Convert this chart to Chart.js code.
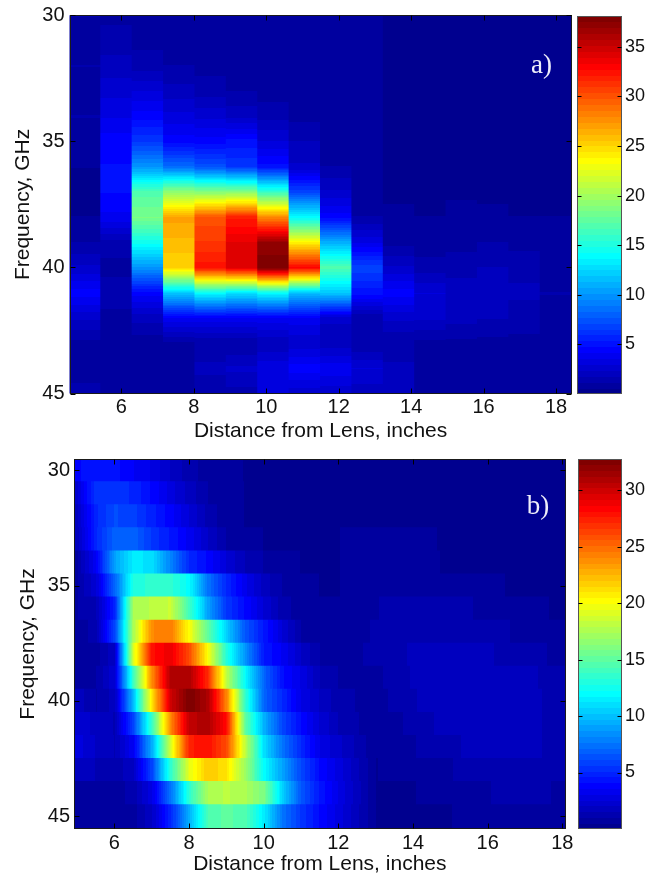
<!DOCTYPE html>
<html>
<head>
<meta charset="utf-8">
<title>Frequency vs distance from lens</title>
<script src="https://cdn.jsdelivr.net/npm/chart.js@4"></script>
<style>
body { margin: 0; background: #fff; }
canvas { position: absolute; }
</style>
</head>
<body>
<canvas id="plotA" width="576" height="456" style="left:0;top:-10px"></canvas>
<canvas id="barA" width="81" height="456" style="left:576px;top:-10px"></canvas>
<canvas id="plotB" width="576" height="438" style="left:0;top:437px"></canvas>
<canvas id="barB" width="81" height="438" style="left:576px;top:437px"></canvas>
<script>
'use strict';
const xTicks = [6, 8, 10, 12, 14, 16, 18];
const yTicks = [30, 35, 40, 45];
const xTitle = 'Distance from Lens, inches';
const yTitle = 'Frequency, GHz';

// panel a) one list per distance, values going down the frequency axis
const frequencyA = [30, 31, 32, 33, 34, 35, 36, 37, 38, 39, 40, 41, 42, 43, 44, 45];
const distanceA = [5, 5.867, 6.733, 7.6, 8.467, 9.333, 10.2, 11.067, 11.933, 12.8, 13.667, 14.533, 15.4, 16.267, 17.133, 18];
const intensityA = [
    [1.2, 1, 1.2, 1, 1.2, 1, .6, .5, .6, 1.2, 2.5, 4.5, 2.5, 1, .8, 1.5],
    [1, 1.5, 2, 2.8, 3.5, 4.5, 4.8, 4.8, 4, 1.5, 1, 1.5, 1, .8, .8, 1],
    [.8, 1, 1.5, 3, 4.5, 6.5, 10, 17, 18.5, 14.5, 10, 4.5, 2, .8, .7, .8],
    [.8, 1, 1.2, 2, 3.2, 4.5, 8.5, 19.5, 27, 26, 25, 12, 4, 1, .8, .8],
    [.8, .8, 1, 1.5, 2.8, 4.5, 7.5, 19, 30, 31, 32.5, 14, 4, 1.2, 2, 1.2],
    [.7, .7, .8, 1.2, 2.2, 5, 6.5, 19, 32, 34, 34, 13, 4, 1.2, 2.5, 1.5],
    [.7, .7, .7, .9, 1.6, 3, 5, 16, 28, 37, 38, 14, 4, 1.8, 3.5, 3],
    [.7, .7, .7, .7, 1, 1.8, 2.5, 7, 14, 24, 33, 11.5, 4, 2.5, 4.5, 2.5],
    [.6, .6, .6, .6, .7, .9, 1.2, 2.5, 4.5, 11, 17, 12, 2.5, 2, 4, 2.5],
    [.6, .6, .6, .6, .6, .6, .7, 1, 1.2, 3.5, 7, 5, 1.2, 1.2, 3, 2],
    [.5, .5, .5, .5, .5, .5, .5, .5, .7, 1, 2.5, 4.5, 2.5, 1.2, 2, 1.8],
    [.5, .5, .5, .5, .5, .5, .5, .5, .6, .8, 1.5, 3, 2.5, 1, .8, 1.2],
    [.5, .5, .5, .5, .5, .5, .5, .5, .8, 1, 1.5, 2.2, 2, 1, .8, .9],
    [.5, .5, .5, .5, .5, .5, .5, .5, .7, 1.2, 1.8, 2, 1.8, 1, .7, .8],
    [.5, .5, .5, .5, .5, .5, .5, .5, .6, 1, 1.6, 1.9, 1.5, 1, .8, .8],
    [.5, .5, .5, .5, .5, .5, .5, .5, .6, .7, 1, 1.2, 1.1, 1, 1, 1]
];
const colorMaxA = 38.1;
const colorTicksA = [5, 10, 15, 20, 25, 30, 35];

// panel b) one list per frequency, values going along the distance axis
const frequencyB = [30, 31, 32, 33, 34, 35, 36, 37, 38, 39, 40, 41, 42, 43, 44, 45];
const distanceB = [5, 5.5, 6, 6.5, 7, 7.5, 8, 8.5, 9, 9.5, 10, 10.5, 11, 11.5, 12, 13, 14, 15, 16, 17, 18];
const intensityB = [
    [4, 4.5, 4.3, 3.6, 3, 2, 1.2, .8, .6, .5, .5, .5, .5, .5, .5, .5, .5, .5, .5, .5, .5],
    [2.5, 5.5, 5.5, 5, 4, 2.8, 1.8, 1, .7, .5, .5, .5, .5, .5, .5, .5, .5, .5, .5, .5, .5],
    [2, 5, 6.2, 5.8, 4.8, 3.8, 2.5, 1.3, .7, .5, .5, .5, .5, .5, .5, .5, .5, .5, .5, .5, .5],
    [1.8, 5, 7, 7, 5.5, 4.5, 3.4, 2, 1, .7, .5, .5, .5, .5, .5, .8, .7, .4, .4, .4, .4],
    [1, 3.5, 9, 11.5, 11, 8, 5, 4, 2.5, 1.5, 1, .7, .5, .5, .5, .8, .8, .4, .4, .4, .4],
    [1, 2.5, 7, 13, 13.5, 13.5, 12, 7.5, 5, 3.2, 1.8, 1, .7, .5, .5, .8, .9, .8, .6, .4, .4],
    [1, 1.5, 5, 17.5, 18, 18.5, 14, 9, 5.5, 4, 2.5, 1.2, .8, .6, .6, 1, 1.3, 1.2, .9, .7, .4],
    [.8, 1.2, 6, 17.5, 24, 24.5, 20, 15, 10.5, 6.5, 4.5, 2.5, 1, .7, .6, 1.1, 1.3, 1.4, 1.2, .9, .8],
    [.8, .8, 2, 19, 28, 29, 26, 20, 13, 8.5, 4.5, 3.5, 2, 1, .7, 1.2, 1.6, 1.8, 1.6, 1.2, .9],
    [1, 1, 2.5, 14, 24, 31, 31, 27, 18, 12, 7, 4.2, 3, 1.5, 1, .9, 1.6, 1.9, 1.9, 1.7, 1.2],
    [1.8, 1, 1.8, 10, 21, 30, 32.7, 31, 24, 13.5, 7, 5, 3, 2, 1.2, .8, 1.5, 1.9, 2, 1.8, 1.2],
    [2.5, 1.8, 1.5, 6, 14, 24, 30.5, 31, 28, 15, 9.5, 6, 4, 2.5, 1.5, .6, 1.2, 1.8, 2, 1.8, 1.2],
    [2.8, 2, 1.5, 3.5, 9.5, 19, 27.5, 28, 26, 18, 11, 7.5, 5, 3, 2.2, .6, 1, 1.4, 1.9, 1.8, 1.2],
    [2, 1.5, 1.2, 2, 6, 13.5, 19.5, 22, 21, 17, 12, 9, 6, 4, 2.8, .5, .7, 1, 1.4, 1.5, 1.2],
    [1, .8, .8, 1.2, 3, 7.5, 13.5, 17.5, 18, 17.5, 16, 10.5, 6.5, 4.5, 3, .5, .5, .7, 1, 1.3, .9],
    [.7, .6, .6, .8, 2, 5, 9.5, 14.5, 15, 14.5, 11.5, 7.5, 5.5, 4, 2.8, .5, .4, .5, .8, .8, .8]
];
const colorMaxB = 32.75;
const colorTicksB = [5, 10, 15, 20, 25, 30];

const LEVELS = 64;
const tickFont = { family: '"Liberation Sans", Arial, sans-serif', size: 20 };
const barFont = { family: '"Liberation Sans", Arial, sans-serif', size: 18 };
const titleFont = { family: '"Liberation Sans", Arial, sans-serif', size: 21, lineHeight: 1 };
const inkColor = '#111';

// matlab jet colormap
function jet(i) {
    const v = (i + 1) / LEVELS;
    const c = (x) => Math.round(255 * Math.max(0, Math.min(1, x)));
    return `rgb(${c(Math.min(4 * v - 1.5, -4 * v + 4.5))},${c(Math.min(4 * v - 0.5, -4 * v + 3.5))},${c(Math.min(4 * v + 0.5, -4 * v + 2.5))})`;
}

function valueAt(nodes, values, t) {
    if (t <= nodes[0]) return values[0];
    for (let i = 1; i < nodes.length; i++) {
        if (t <= nodes[i]) {
            const f = (t - nodes[i - 1]) / (nodes[i] - nodes[i - 1]);
            return values[i - 1] + f * (values[i] - values[i - 1]);
        }
    }
    return values[values.length - 1];
}

// fill for one bar: walks along it pixel by pixel, hard stop at every colormap level
function shade(ctx, from, to, vertical, valueForPixel, colorMax) {
    const g = vertical ? ctx.createLinearGradient(0, from, 0, to) : ctx.createLinearGradient(from, 0, to, 0);
    const level = (p) => Math.max(0, Math.min(LEVELS - 1, Math.floor(valueForPixel(p) / colorMax * LEVELS)));
    let last = level(from);
    g.addColorStop(0, jet(last));
    for (let p = from + 1; p < to; p++) {
        const now = level(p);
        if (now !== last) {
            const off = (p - from) / (to - from);
            g.addColorStop(off, jet(last));
            g.addColorStop(off, jet(now));
            last = now;
        }
    }
    g.addColorStop(1, jet(last));
    return g;
}

// matlab style box: thin frame with ticks pointing inwards
const boxTicks = {
    id: 'boxTicks',
    afterDraw(chart, args, opts) {
        const { ctx, chartArea: a, scales } = chart;
        const l = Math.round(a.left) + 0.5, r = Math.round(a.right) - 0.5;
        const t = Math.round(a.top) + 0.5, b = Math.round(a.bottom) - 0.5;
        ctx.save();
        ctx.strokeStyle = opts.color || '#1a1a1a';
        ctx.lineWidth = 1;
        ctx.strokeRect(l, t, r - l, b - t);
        ctx.beginPath();
        if (opts.xTicks) {
            opts.xTicks.forEach((v) => {
                const x = Math.round(scales.x.getPixelForValue(v)) + 0.5;
                ctx.moveTo(x, t); ctx.lineTo(x, t + opts.size);
                ctx.moveTo(x, b); ctx.lineTo(x, b - opts.size);
            });
        }
        opts.yTicks.forEach((v) => {
            const y = Math.round(scales.y.getPixelForValue(v)) + 0.5;
            ctx.moveTo(l, y); ctx.lineTo(l + opts.size, y);
            ctx.moveTo(r, y); ctx.lineTo(r - opts.size, y);
        });
        ctx.strokeStyle = '#000';
        ctx.stroke();
        if (opts.label) {
            ctx.fillStyle = '#eeeefa';
            ctx.font = '27px "Liberation Serif", "Times New Roman", serif';
            ctx.textAlign = 'center';
            ctx.textBaseline = 'middle';
            ctx.fillText(opts.label.text, scales.x.getPixelForValue(opts.label.x), scales.y.getPixelForValue(opts.label.y));
        }
        ctx.restore();
    }
};

function setTicks(list) {
    return (scale) => { scale.ticks = list.map((v) => ({ value: v })); };
}

function heatOptions(box, xRange, yRange, boxOpts, indexAxis, pads) {
    return {
        indexAxis: indexAxis,
        responsive: false,
        animation: false,
        events: [],
        layout: { padding: { top: box.top, right: box.right, left: 0, bottom: 0 } },
        plugins: { legend: { display: false }, tooltip: { enabled: false }, boxTicks: boxOpts },
        datasets: { bar: { barPercentage: 1, categoryPercentage: 1, borderWidth: 0, inflateAmount: 0.6 } },
        scales: {
            x: {
                type: 'linear', offset: false, min: xRange[0], max: xRange[1],
                afterBuildTicks: setTicks(xTicks),
                afterFit(s) { s.height = box.bottom; },
                grid: { display: false, drawTicks: false, offset: false }, border: { display: false },
                ticks: { font: tickFont, color: inkColor, padding: 2, maxRotation: 0, autoSkip: false },
                title: { display: true, text: xTitle, font: titleFont, color: inkColor, padding: { top: 0, bottom: pads.x } }
            },
            y: {
                type: 'linear', reverse: true, offset: false, min: yRange[0], max: yRange[1],
                afterBuildTicks: setTicks(yTicks),
                afterFit(s) { s.width = box.left; },
                grid: { display: false, drawTicks: false, offset: false }, border: { display: false },
                ticks: { font: tickFont, color: inkColor, padding: pads.tick, autoSkip: false },
                title: { display: true, text: yTitle, font: titleFont, color: inkColor, padding: { top: pads.y, bottom: 0 } }
            }
        }
    };
}

function colorBar(id, colorMax, colorTicks, pad) {
    new Chart(document.getElementById(id), {
        type: 'bar',
        data: {
            labels: ['scale'],
            datasets: [{
                data: [[0, colorMax]],
                backgroundColor(c) {
                    const a = c.chart.chartArea;
                    if (!a) return jet(0);
                    const y = c.chart.scales.y;
                    return shade(c.chart.ctx, a.top, a.bottom, true, (p) => y.getValueForPixel(p), colorMax);
                }
            }]
        },
        options: {
            responsive: false,
            animation: false,
            events: [],
            layout: { padding: pad },
            plugins: { legend: { display: false }, tooltip: { enabled: false },
                boxTicks: { yTicks: colorTicks, size: 4, color: '#555' } },
            datasets: { bar: { barPercentage: 1, categoryPercentage: 1, borderWidth: 0 } },
            scales: {
                x: { display: false },
                y: {
                    position: 'right', min: 0, max: colorMax,
                    afterBuildTicks: setTicks(colorTicks),
                    afterFit(s) { s.width = 35; },
                    grid: { display: false, drawTicks: false }, border: { display: false },
                    ticks: { font: barFont, color: inkColor, padding: 3, autoSkip: false }
                }
            }
        },
        plugins: [boxTicks]
    });
}

// panel a: one tall bar per distance, shaded down the frequency axis
new Chart(document.getElementById('plotA'), {
    type: 'bar',
    data: {
        datasets: [{
            data: distanceA.map((d) => ({ x: d, y: [frequencyA[0], frequencyA[frequencyA.length - 1]] })),
            backgroundColor(c) {
                const a = c.chart.chartArea;
                if (!a || c.dataIndex === undefined) return jet(0);
                const s = c.chart.scales.y;
                const col = intensityA[c.dataIndex];
                return shade(c.chart.ctx, a.top, a.bottom, true, (p) => valueAt(frequencyA, col, s.getValueForPixel(p)), colorMaxA);
            }
        }]
    },
    options: heatOptions({ left: 69.5, right: 4.3, top: 25.2, bottom: 52.4 }, [4.567, 18.433], [30, 45],
        { xTicks: xTicks, yTicks: yTicks, size: 5, label: { text: 'a)', x: 17.6, y: 32 } }, 'x', { x: 4.5, y: 12.5, tick: 5 }),
    plugins: [boxTicks]
});
colorBar('barA', colorMaxA, colorTicksA, { left: 1, right: 0, top: 26, bottom: 52 });

// panel b: one wide bar per frequency, shaded along the distance axis
new Chart(document.getElementById('plotB'), {
    type: 'bar',
    data: {
        datasets: [{
            data: frequencyB.map((f) => ({ y: f, x: [4.92, 18.09] })),
            backgroundColor(c) {
                const a = c.chart.chartArea;
                if (!a || c.dataIndex === undefined) return jet(0);
                const s = c.chart.scales.x;
                const row = intensityB[c.dataIndex];
                return shade(c.chart.ctx, a.left, a.right, false, (p) => valueAt(distanceB, row, s.getValueForPixel(p)), colorMaxB);
            }
        }]
    },
    options: heatOptions({ left: 74, right: 10.3, top: 22, bottom: 46 }, [4.92, 18.09], [29.51, 45.55],
        { xTicks: xTicks, yTicks: yTicks, size: 5, label: { text: 'b)', x: 17.35, y: 31.6 } }, 'y', { x: 0, y: 17.5, tick: 4 }),
    plugins: [boxTicks]
});
colorBar('barB', colorMaxB, colorTicksB, { left: 2, right: 0, top: 22, bottom: 46 });
</script>
</body>
</html>
